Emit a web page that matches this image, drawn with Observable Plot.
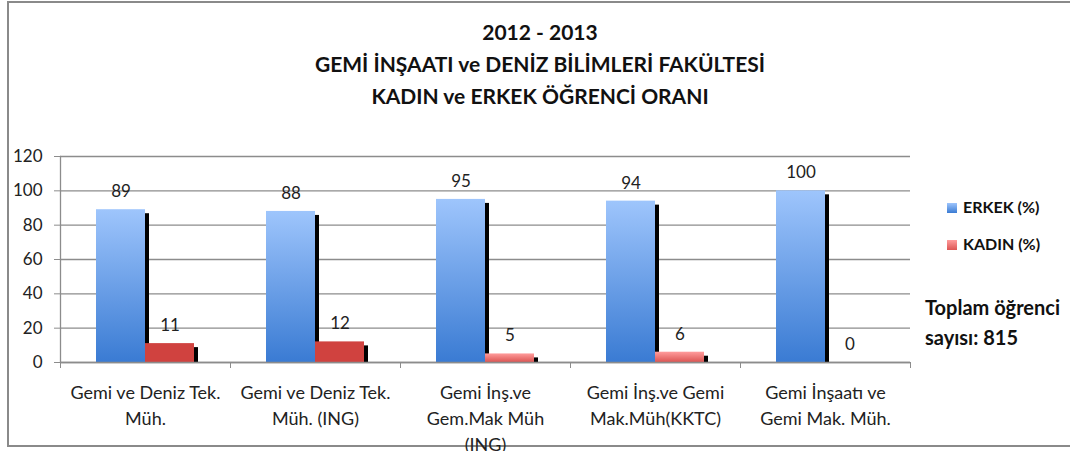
<!DOCTYPE html>
<html>
<head>
<meta charset="utf-8">
<script src="https://cdn.jsdelivr.net/npm/d3@7"></script>
<script src="https://cdn.jsdelivr.net/npm/@observablehq/plot@0.6"></script>
<style>
  body { margin: 0; background: #fff; }
  #wrap { position: relative; width: 1070px; height: 451px; overflow: hidden; font-family: Lato, "Open Sans", sans-serif; }
  #border { position: absolute; left: 7px; top: 1px; width: 1100px; height: 446px; border: 2px solid #8a8a8a; box-sizing: border-box; }
  #title { position: absolute; left: 0; top: 16px; width: 1080px; text-align: center; font-weight: bold; font-size: 21px; line-height: 32px; color: #111; }
  .leg { position: absolute; font-weight: bold; font-size: 16px; line-height: 20px; color: #111; }
  .sw { display: inline-block; width: 10px; height: 10px; margin-right: 6px; vertical-align: 0px; }
  #total { position: absolute; left: 925px; top: 292px; font-weight: bold; font-size: 20px; line-height: 30px; color: #111; }
  svg { position: absolute; left: 0; top: 0; }
</style>
</head>
<body>
<div id="wrap">
  <div id="border"></div>
  <div id="chart"></div>
  <div id="title"></div>
  <div class="leg" id="leg1" style="left:947px; top:197px;"></div>
  <div class="leg" id="leg2" style="left:947px; top:234px;"></div>
  <div id="total"></div>
</div>
<script>
const categories = [
  "Gemi ve Deniz Tek. Müh.",
  "Gemi ve Deniz Tek. Müh. (ING)",
  "Gemi İnş.ve Gem.Mak Müh (ING)",
  "Gemi İnş.ve Gemi Mak.Müh(KKTC)",
  "Gemi İnşaatı ve Gemi Mak. Müh."
];
const categoryLabels = [
  "Gemi ve Deniz Tek.\nMüh.",
  "Gemi ve Deniz Tek.\nMüh. (ING)",
  "Gemi İnş.ve\nGem.Mak Müh\n(ING)",
  "Gemi İnş.ve Gemi\nMak.Müh(KKTC)",
  "Gemi İnşaatı ve\nGemi Mak. Müh."
];
const erkek = [89, 88, 95, 94, 100];
const kadin = [11, 12, 5, 6, 0];
const seriesNames = ["ERKEK (%)", "KADIN (%)"];
const yTicks = [0, 20, 40, 60, 80, 100, 120];
const titleLines = ["2012 - 2013", "GEMİ İNŞAATI ve DENİZ BİLİMLERİ FAKÜLTESİ", "KADIN ve ERKEK ÖĞRENCİ ORANI"];
const totalText = ["Toplam öğrenci", "sayısı: 815"];

const rowsE = categories.map((c, i) => ({cat: c, v: erkek[i]}));
const rowsK = categories.map((c, i) => ({cat: c, v: kadin[i]}));
const labelRows = categories.map((c, i) => ({cat: c, label: categoryLabels[i]}));

const defs = () => {
  const g = d3.create("svg:defs");
  const b = g.append("linearGradient").attr("id", "gBlue").attr("x1", 0).attr("y1", 0).attr("x2", 0).attr("y2", 1);
  b.append("stop").attr("offset", "0%").attr("stop-color", "#9ec5fc");
  b.append("stop").attr("offset", "100%").attr("stop-color", "#3a7bd3");
  const r = g.append("linearGradient").attr("id", "gRed").attr("x1", 0).attr("y1", 0).attr("x2", 0).attr("y2", 1);
  r.append("stop").attr("offset", "0%").attr("stop-color", "#ff9c9c");
  r.append("stop").attr("offset", "100%").attr("stop-color", "#dc5553");
  return g.node();
};

const band = 170;
const chart = Plot.plot({
  width: 1070,
  height: 451,
  marginLeft: 60,
  marginRight: 160,
  marginTop: 156,
  marginBottom: 89,
  style: {fontFamily: "Lato, 'Open Sans', sans-serif", background: "transparent", overflow: "visible"},
  x: {domain: categories, padding: 0, axis: null},
  y: {domain: [0, 120], axis: null},
  marks: [
    defs,
    Plot.gridY(yTicks, {stroke: "#8c8c8c", strokeOpacity: 1, strokeWidth: 1.3}),
    Plot.axisY(yTicks, {label: null, tickSize: 6, tickPadding: 12, fontSize: 17, stroke: "#8c8c8c", color: "#222", tickFormat: d => d}),
    Plot.frame({anchor: "left", stroke: "#8c8c8c", strokeWidth: 1.3}),
    Plot.axisX(categories, {label: null, tickSize: 6, dx: -band / 2, tickFormat: () => "", stroke: "#8c8c8c"}),
    Plot.axisX(categories.slice(-1), {label: null, tickSize: 6, dx: band / 2, tickFormat: () => "", stroke: "#8c8c8c"}),
    Plot.barY(rowsE, {x: "cat", y: "v", fill: "url(#gBlue)", insetLeft: 36, insetRight: 85}),
    Plot.barY(rowsE, {x: "cat", y: "v", fill: "black", insetLeft: 85, insetRight: 81, insetTop: 4}),
    Plot.barY(rowsK, {x: "cat", y: "v", fill: "black", insetLeft: 134, insetRight: 32, insetTop: 4}),
    Plot.barY(rowsK, {x: "cat", y: "v", fill: (d) => d.v > 8 ? "#d0423f" : "url(#gRed)", insetLeft: 85, insetRight: 36}),
    Plot.ruleY([0], {stroke: "#8c8c8c", strokeWidth: 1.5}),
    Plot.text(rowsE, {x: "cat", y: "v", text: d => String(d.v), dx: -24.5, dy: -18, fontSize: 17, fill: "#222"}),
    Plot.text(rowsK, {x: "cat", y: "v", text: d => String(d.v), dx: 24.5, dy: -18, fontSize: 17, fill: "#222"}),
    Plot.text(labelRows, {x: "cat", y: 0, text: "label", dy: 18, lineAnchor: "top", lineHeight: 1.45, fontSize: 18, fill: "#222"})
  ]
});
document.getElementById("chart").appendChild(chart);

document.getElementById("title").innerHTML = titleLines.map(t => `<div>${t}</div>`).join("");
document.getElementById("leg1").innerHTML = `<span class="sw" style="background:linear-gradient(#9ec5fc,#3a7bd3)"></span>${seriesNames[0]}`;
document.getElementById("leg2").innerHTML = `<span class="sw" style="background:linear-gradient(#ff9c9c,#dc5553)"></span>${seriesNames[1]}`;
document.getElementById("total").innerHTML = totalText.map(t => `<div>${t}</div>`).join("");
</script>
</body>
</html>
